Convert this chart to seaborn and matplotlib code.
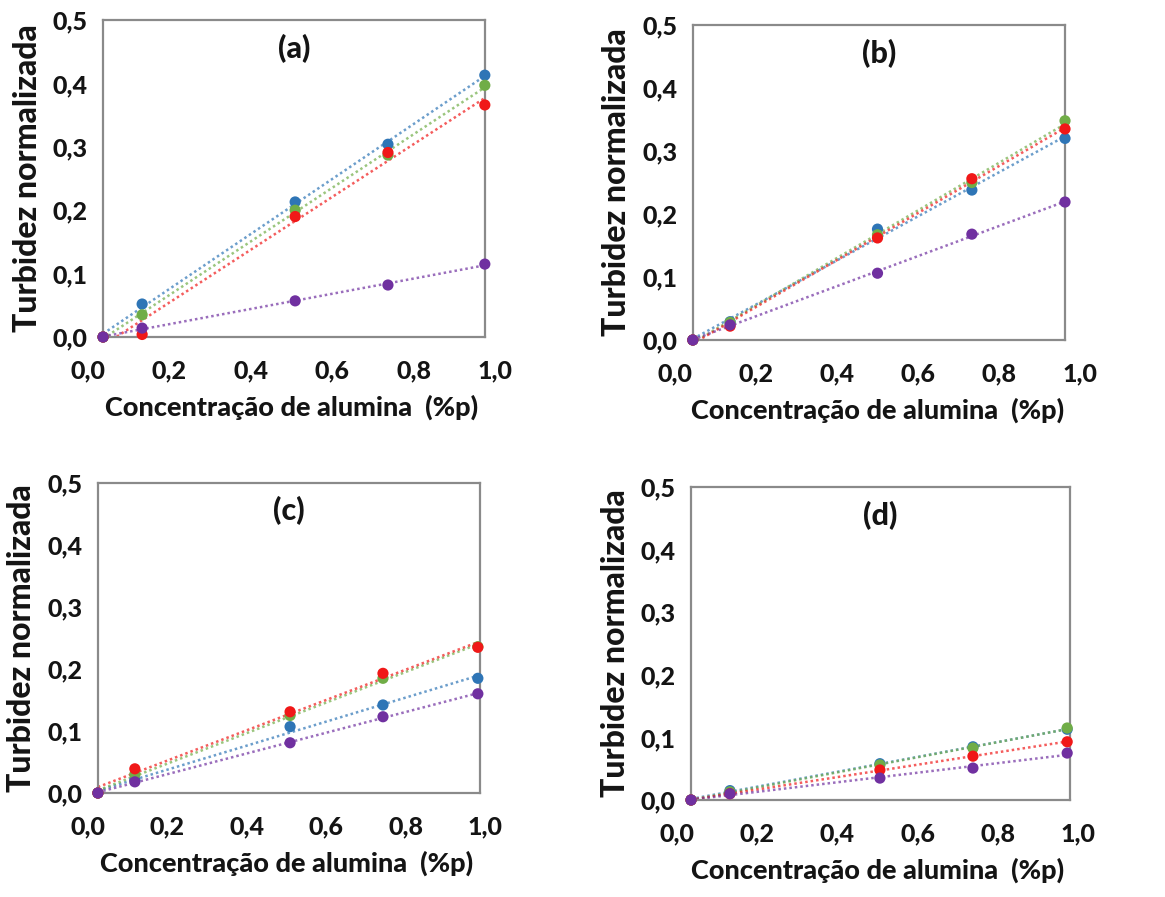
import numpy as np
import pandas as pd
import matplotlib
matplotlib.use("Agg")
import matplotlib.pyplot as plt
import seaborn as sns

# concentracao de alumina (%p) lida em cada painel
conc_a = [0.037, 0.133, 0.509, 0.737, 0.975]
conc_b = [0.044, 0.136, 0.500, 0.733, 0.963]
conc_c = [0.025, 0.118, 0.509, 0.743, 0.982]
conc_d = [0.035, 0.132, 0.506, 0.738, 0.973]

# turbidez normalizada por serie (azul, verde, vermelho, roxo)
a_azul = [0.0, 0.052, 0.213, 0.304, 0.413]
a_verde = [0.0, 0.035, 0.200, 0.287, 0.397]
a_verm = [0.0, 0.004, 0.190, 0.291, 0.366]
a_roxo = [0.0, 0.014, 0.057, 0.082, 0.115]

b_azul = [0.0, 0.029, 0.176, 0.238, 0.320]
b_verde = [0.0, 0.028, 0.167, 0.250, 0.348]
b_verm = [0.0, 0.022, 0.162, 0.256, 0.335]
b_roxo = [0.0, 0.024, 0.106, 0.168, 0.219]

c_azul = [0.0, 0.021, 0.107, 0.142, 0.185]
c_verde = [0.0, 0.030, 0.125, 0.185, 0.236]
c_verm = [0.0, 0.039, 0.131, 0.193, 0.235]
c_roxo = [0.0, 0.018, 0.081, 0.123, 0.160]

d_azul = [0.0, 0.015, 0.058, 0.085, 0.113]
d_verde = [0.0, 0.013, 0.056, 0.083, 0.115]
d_verm = [0.0, 0.010, 0.048, 0.070, 0.093]
d_roxo = [0.0, 0.010, 0.035, 0.051, 0.075]

paineis = ['(a)', '(b)', '(c)', '(d)']
series = ['azul', 'verde', 'vermelho', 'roxo']
cores = {'azul': '#2E75B6', 'verde': '#70AD47', 'vermelho': '#F01818', 'roxo': '#7030A0'}

dados = {
    '(a)': (conc_a, [a_azul, a_verde, a_verm, a_roxo]),
    '(b)': (conc_b, [b_azul, b_verde, b_verm, b_roxo]),
    '(c)': (conc_c, [c_azul, c_verde, c_verm, c_roxo]),
    '(d)': (conc_d, [d_azul, d_verde, d_verm, d_roxo]),
}

rows = []
for p in paineis:
    xs, ys = dados[p]
    for s, yv in zip(series, ys):
        for x, y in zip(xs, yv):
            rows.append((p, s, x, y))
df = pd.DataFrame(rows, columns=['painel', 'serie', 'conc', 'turb'])

sns.set_theme(style="white")
plt.rcParams['font.family'] = ['Lato', 'DejaVu Sans']
plt.rcParams['font.weight'] = 'black'
plt.rcParams['axes.labelweight'] = 'black'

W, H = 1165, 897
fig = plt.figure(figsize=(W / 100, H / 100), dpi=100)

# layout em pixels: x de 0 e 1, y de 0 e 0.5, bordas da caixa (fração do eixo x)
layout = {
    '(a)': (88, 495, 337, 20, 0.037, 0.975),
    '(b)': (675, 1080, 340, 25, 0.044, 0.963),
    '(c)': (88, 485, 793, 483, 0.025, 0.987),
    '(d)': (677, 1078, 800, 487, 0.035, 0.980),
}
cor_txt = '#141414'

for p in paineis:
    x0, x1, yb, yt, bl, br = layout[p]
    ax = fig.add_axes([x0 / W, 1 - yb / H, (x1 - x0) / W, (yb - yt) / H])
    sub = df[df.painel == p]
    for s in series:
        d = sub[sub.serie == s]
        sns.regplot(data=d, x='conc', y='turb', ax=ax, scatter=False, ci=None,
                    color=cores[s], truncate=True,
                    line_kws=dict(ls=(0, (1, 1.2)), lw=1.8, alpha=0.7))
    sns.scatterplot(data=sub, x='conc', y='turb', hue='serie', palette=cores,
                    s=65, edgecolor='none', legend=False, ax=ax, zorder=5, clip_on=False)
    ax.set_xlim(0, 1)
    ax.set_ylim(0, 0.5)
    xt = np.arange(0, 1.01, 0.2)
    yt_ = np.arange(0, 0.51, 0.1)
    ax.set_xticks(xt)
    ax.set_yticks(yt_)
    ax.set_xticklabels([f"{v:.1f}".replace('.', ',') for v in xt])
    ax.set_yticklabels([f"{v:.1f}".replace('.', ',') for v in yt_])
    ax.tick_params(length=0, labelsize=18, colors=cor_txt)
    ax.tick_params(axis='x', pad=16)
    ax.tick_params(axis='y', pad=11)
    for sp in ax.spines.values():
        sp.set_color('#8a8a8a')
        sp.set_linewidth(1.6)
    ax.spines['left'].set_position(('data', bl))
    ax.spines['right'].set_position(('data', br))
    ax.spines['top'].set_bounds(bl, br)
    ax.spines['bottom'].set_bounds(bl, br)
    ax.set_xlabel('Concentração de alumina  (%p)', fontsize=19.5, fontweight='black',
                  color=cor_txt, labelpad=9)
    ax.set_ylabel('Turbidez normalizada', fontsize=23, fontweight='black',
                  color=cor_txt, labelpad=8)
    ax.text((bl + br) / 2, 0.455, p, fontsize=22, fontweight='black', color=cor_txt,
            ha='center', va='center')

fig.savefig('out.png', dpi=100)
